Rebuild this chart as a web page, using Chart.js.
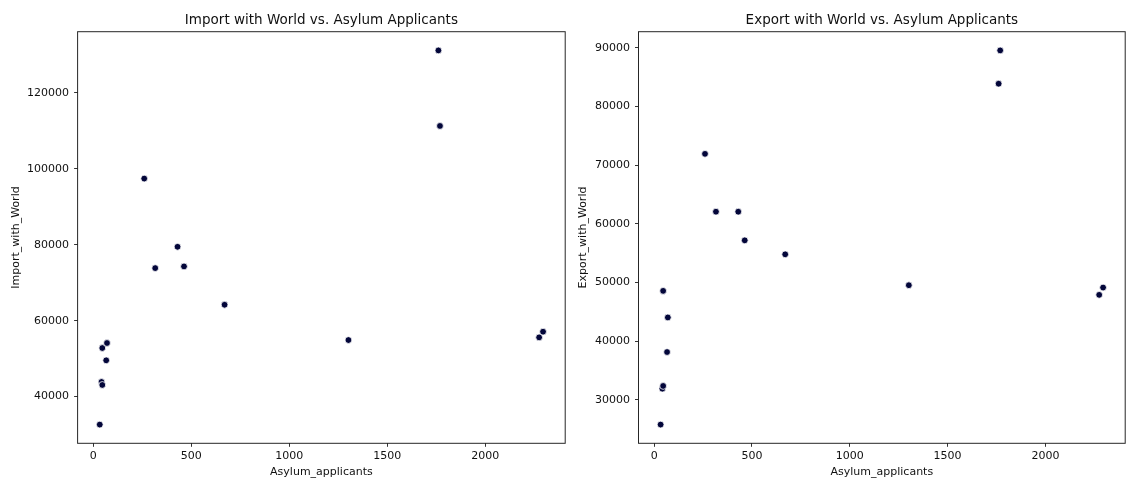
<!DOCTYPE html>
<html>
<head>
<meta charset="utf-8">
<script src="https://cdn.jsdelivr.net/npm/chart.js@4.4.1/dist/chart.umd.min.js"></script>
<style>
  html, body { margin: 0; padding: 0; background: #fff; overflow: hidden; width: 1126px; height: 480px; }
  #page { position: relative; width: 1126px; height: 480px; overflow: hidden; }
  .box { position: absolute; top: 0; height: 480px; }
  #left { left: 0; width: 570px; }
  #right { left: 570px; width: 560px; }
</style>
</head>
<body>
<div id="page">
  <div class="box" id="left"><canvas id="importChart"></canvas></div>
  <div class="box" id="right"><canvas id="exportChart"></canvas></div>
</div>
<script>
// values (same countries in both)
const asylumApplicants = [33, 42, 46, 46, 66, 70, 260, 316, 430, 463, 670, 1302, 1761, 1769, 2275, 2295];
const importWithWorld = [32630, 43860, 43070, 52800, 49560, 54120, 97440, 73850, 79470, 74290, 64200, 54900, 131200, 111300, 55600, 57100];
const exportWithWorld = [25800, 31920, 32380, 48580, 38160, 44050, 71925, 62070, 62070, 57190, 54810, 49545, 83880, 89550, 47900, 49150];

const xTicks = [0, 500, 1000, 1500, 2000];
const importTicks = [40000, 60000, 80000, 100000, 120000];
const exportTicks = [30000, 40000, 50000, 60000, 70000, 80000, 90000];

const FONT = "'DejaVu Sans', 'Liberation Sans', sans-serif";
const TEXT = "#111";

// axes frame (all four spines) + title centred over the plot area
const framePlugin = {
  id: "frame",
  beforeDatasetsDraw(chart) {
    const { ctx, chartArea: a } = chart;
    ctx.save();
    ctx.strokeStyle = "#262626";
    ctx.lineWidth = 1;
    ctx.strokeRect(a.left, a.top, a.right - a.left, a.bottom - a.top);
    ctx.restore();
  },
  afterDraw(chart, args, opts) {
    const { ctx, chartArea: a } = chart;
    ctx.save();
    ctx.fillStyle = TEXT;
    ctx.font = "13.5px " + FONT;
    ctx.textAlign = "center";
    ctx.textBaseline = "alphabetic";
    ctx.fillText(opts.text, (a.left + a.right) / 2, 23.5);
    ctx.restore();
  },
};

function makeChart(id, title, yLabel, yValues, yTicks, yMin, yMax, yAxisWidth, yTitlePad) {
  const points = asylumApplicants.map((x, i) => ({ x: x, y: yValues[i] }));
  return new Chart(document.getElementById(id), {
    type: "scatter",
    data: {
      datasets: [
        {
          data: points,
          backgroundColor: "#03063a",
          borderColor: "#ffffff",
          borderWidth: 0.8,
          pointRadius: 3.4,
        },
      ],
    },
    options: {
      responsive: true,
      maintainAspectRatio: false,
      animation: false,
      layout: { padding: { top: 31.7, right: 2.4, bottom: 0, left: 0 } },
      plugins: {
        legend: { display: false },
        tooltip: { enabled: false },
        frame: { text: title },
      },
      scales: {
        x: {
          type: "linear",
          min: -80,
          max: 2408,
          afterBuildTicks: (s) => { s.ticks = xTicks.map((v) => ({ value: v })); },
          afterFit: (s) => { s.height = 36.7; },
          border: { display: false },
          grid: { drawOnChartArea: false, drawTicks: true, tickLength: 3.5, tickColor: "#333" },
          ticks: {
            padding: 2.5,
            color: TEXT,
            font: { family: FONT, size: 11 },
            maxRotation: 0,
            callback: (v) => String(v),
          },
          title: {
            display: true,
            text: "Asylum_applicants",
            color: TEXT,
            font: { family: FONT, size: 11 },
            padding: { top: 0, bottom: 1.4 },
          },
        },
        y: {
          type: "linear",
          min: yMin,
          max: yMax,
          afterBuildTicks: (s) => { s.ticks = yTicks.map((v) => ({ value: v })); },
          afterFit: (s) => { s.width = yAxisWidth; },
          border: { display: false },
          grid: { drawOnChartArea: false, drawTicks: true, tickLength: 3.5, tickColor: "#333" },
          ticks: {
            padding: 5,
            color: TEXT,
            font: { family: FONT, size: 11 },
            callback: (v) => String(v),
          },
          title: {
            display: true,
            text: yLabel,
            color: TEXT,
            font: { family: FONT, size: 11 },
            padding: { top: yTitlePad, bottom: 0 },
          },
        },
      },
    },
    plugins: [framePlugin],
  });
}

makeChart("importChart", "Import with World vs. Asylum Applicants", "Import_with_World",
  importWithWorld, importTicks, 27700, 136130, 77.6, 9.8);
makeChart("exportChart", "Export with World vs. Asylum Applicants", "Export_with_World",
  exportWithWorld, exportTicks, 22610, 92740, 68.5, 6.9);
</script>
</body>
</html>
